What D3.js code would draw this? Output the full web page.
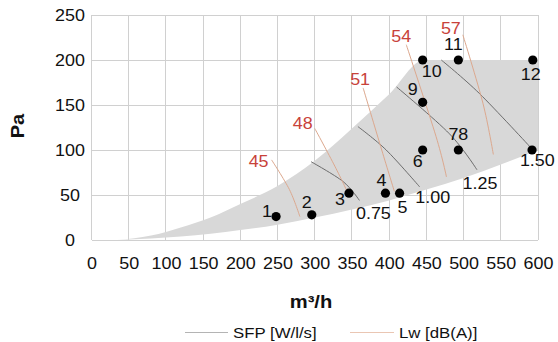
<!DOCTYPE html>
<html><head><meta charset="utf-8">
<script src="https://cdn.jsdelivr.net/npm/d3@7"></script>
<style>
html,body{margin:0;padding:0;background:#fff;}
text{font-family:"Liberation Sans",Arial,Helvetica,sans-serif;}
</style></head>
<body><svg id="chart" width="558" height="342"></svg>
<script>
// ---- data ----
const xTicks = [0,50,100,150,200,250,300,350,400,450,500,550,600];
const yTicks = [0,50,100,150,200,250];
const envelopeUpper = [[35,0],[80,5],[120,14],[160,25],[200,40],[250,60],[300,88],[350,124],[400,162],[447,200],[600,200]];
const envelopeLower = [[35,0],[80,1.8],[120,4],[160,7],[200,11],[250,17],[300,25],[350,34],[400,44],[450,56],[500,69],[550,84],[600,100]];
const pointLabels = ["1","2","3","4","5","6","78","9","10","11","12",""];
const pointFlow = [248,296,346,395,414,445,493,445,445,493,593,592];
const pointPressure = [26,28,52,52,52,100,100,153,200,200,200,100];
const sfpValues = ["0.75","1.00","1.25","1.50"];
const sfpLines = [
  [[295,87],[338,65],[360,44]],
  [[358,126],[396,100],[441,59]],
  [[410,170],[481,118],[518,78]],
  [[470,200],[521,163],[591,102]]
];
const lwValues = ["45","48","51","54","57"];
const lwLines = [
  [[242,89],[266,56],[280,26]],
  [[300,124],[327,82],[347,48]],
  [[365,169],[390,100],[407,54]],
  [[423,217],[463,115],[477,70]],
  [[499,228],[526,152],[540,95]]
];
const legendLabels = ["SFP [W/l/s]","Lw [dB(A)]"];

// ---- layout / style ----
const svg = d3.select("#chart");
const x = d3.scaleLinear().domain([0,600]).range([91.5,538]);
const y = d3.scaleLinear().domain([0,250]).range([240,15]);
const FS = 16, SX = 1.12;
const pointOffsets = {"1":[-9,-5],"2":[-5,-12],"3":[-9,7],"4":[-4,-12],"5":[3,15],"6":[-5,12],"78":[0,-15],"9":[-10,-12],"10":[9,12],"11":[-5,-15],"12":[-2,15]};
const sfpOffsets = [[14,13],[13,11],[3,14],[6,13]];
const lwOffsets = [[-13,2],[-12,-5],[-3,-8],[-5,-8],[-12,-6]];

function stretch(sel){
  sel.each(function(){
    const t = d3.select(this);
    const tx = +t.attr("x") || 0, ty = +t.attr("y") || 0;
    t.attr("x",0).attr("y",0).attr("transform",`translate(${tx},${ty}) scale(${SX},1)`);
  });
}

// grid
const grid = svg.append("g");
grid.selectAll("line.v").data(xTicks).join("line")
  .attr("x1",d=>x(d)).attr("x2",d=>x(d)).attr("y1",y(250)).attr("y2",y(0))
  .attr("stroke","#d0d0d0").attr("stroke-width",1).attr("shape-rendering","crispEdges");
grid.selectAll("line.h").data(yTicks).join("line")
  .attr("x1",x(0)).attr("x2",x(600)).attr("y1",d=>y(d)).attr("y2",d=>y(d))
  .attr("stroke","#d0d0d0").attr("stroke-width",1).attr("shape-rendering","crispEdges");

// envelope
const envLine = d3.line().x(d=>x(d[0])).y(d=>y(d[1])).curve(d3.curveMonotoneX);
const envPath = envLine(envelopeUpper) + "L" + envLine(envelopeLower.slice().reverse()).slice(1) + "Z";
svg.append("path").attr("d", envPath).attr("fill","#d8d8d8").attr("stroke","none");

// SFP lines
const curve = d3.line().x(d=>x(d[0])).y(d=>y(d[1])).curve(d3.curveCardinal);
svg.append("g").selectAll("path").data(sfpLines).join("path")
  .attr("d", d=>curve(d)).attr("fill","none").attr("stroke","#6c6c6c").attr("stroke-width",1);
// Lw lines
svg.append("g").selectAll("path").data(lwLines).join("path")
  .attr("d", d=>curve(d)).attr("fill","none").attr("stroke","#dca88e").attr("stroke-width",1);

// points
svg.append("g").selectAll("circle").data(pointFlow).join("circle")
  .attr("cx",d=>x(d)).attr("cy",(d,i)=>y(pointPressure[i])).attr("r",4.6).attr("fill","#000");
svg.append("g").selectAll("text").data(pointLabels.filter(l=>l!=="")).join("text")
  .attr("x",(d)=>{const i=pointLabels.indexOf(d);return x(pointFlow[i])+pointOffsets[d][0];})
  .attr("y",(d)=>{const i=pointLabels.indexOf(d);return y(pointPressure[i])+pointOffsets[d][1];})
  .attr("text-anchor","middle").attr("dominant-baseline","central")
  .attr("font-size",FS).attr("fill","#111").text(d=>d).call(stretch);

// SFP labels
svg.append("g").selectAll("text").data(sfpValues).join("text")
  .attr("x",(d,i)=>x(sfpLines[i][2][0])+sfpOffsets[i][0])
  .attr("y",(d,i)=>y(sfpLines[i][2][1])+sfpOffsets[i][1])
  .attr("text-anchor","middle").attr("dominant-baseline","central")
  .attr("font-size",FS).attr("fill","#111").text(d=>d).call(stretch);
// Lw labels
svg.append("g").selectAll("text").data(lwValues).join("text")
  .attr("x",(d,i)=>x(lwLines[i][0][0])+lwOffsets[i][0])
  .attr("y",(d,i)=>y(lwLines[i][0][1])+lwOffsets[i][1])
  .attr("text-anchor","middle").attr("dominant-baseline","central")
  .attr("font-size",FS).attr("fill","#c8423a").text(d=>d).call(stretch);

// axes (labels only)
const xAxis = d3.axisBottom(x).tickValues(xTicks).tickSize(0).tickPadding(0);
const gx = svg.append("g").attr("transform",`translate(0,${y(0)})`).call(xAxis);
gx.select(".domain").remove();
gx.selectAll("text").attr("y",29).attr("dy",null).attr("font-size",FS).attr("fill","#111")
  .attr("font-family",'"Liberation Sans",Arial,sans-serif').call(stretch);
const yAxis = d3.axisLeft(y).tickValues(yTicks).tickSize(0).tickPadding(0);
const gy = svg.append("g").attr("transform",`translate(70,0)`).call(yAxis);
gy.select(".domain").remove();
gy.selectAll("text").attr("x",0).attr("y",0).attr("dy","0.36em").attr("text-anchor","middle").attr("font-size",FS).attr("fill","#111")
  .attr("font-family",'"Liberation Sans",Arial,sans-serif').call(stretch);

// axis titles
svg.append("text").attr("x",311).attr("y",308).attr("text-anchor","middle")
  .attr("font-size",18).attr("font-weight","bold").attr("fill","#111")
  .text("m³/h").call(stretch);
svg.append("text").attr("transform",`translate(24,126) rotate(-90) scale(${SX},1)`).attr("text-anchor","middle")
  .attr("font-size",18).attr("font-weight","bold").attr("fill","#111").text("Pa");

// legend
const legend = svg.append("g");
legend.append("line").attr("x1",185).attr("x2",228).attr("y1",332.5).attr("y2",332.5).attr("stroke","#b4b4b4").attr("stroke-width",1);
legend.append("text").attr("x",233).attr("y",337.5).attr("font-size",15).attr("fill","#111").text(legendLabels[0]).call(stretch);
legend.append("line").attr("x1",350).attr("x2",394).attr("y1",332.5).attr("y2",332.5).attr("stroke","#eac6b3").attr("stroke-width",1);
legend.append("text").attr("x",399).attr("y",337.5).attr("font-size",15).attr("fill","#111").text(legendLabels[1]).call(stretch);
</script>
</body></html>
